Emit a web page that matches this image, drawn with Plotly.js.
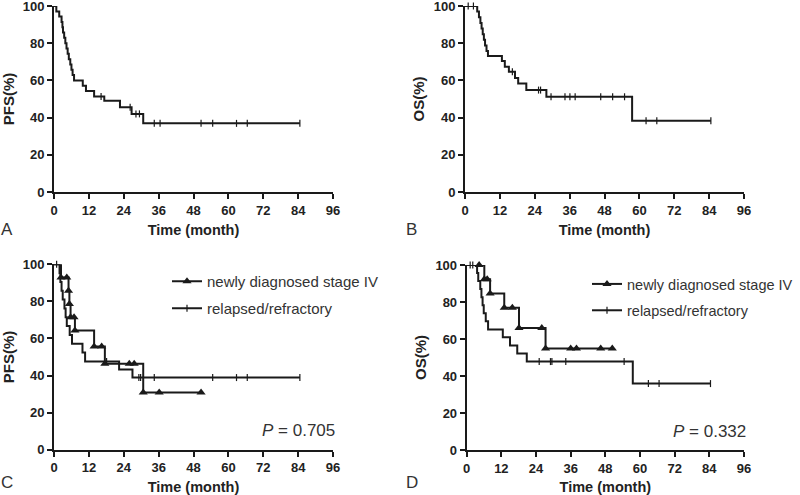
<!DOCTYPE html>
<html>
<head>
<meta charset="utf-8">
<script src="https://cdn.plot.ly/plotly-3.0.1.min.js"></script>
<style>html,body{margin:0;padding:0;background:#fff;}#chart{width:800px;height:495px;}</style>
</head>
<body>
<div id="chart"></div>
<script>
// ---------- Data ----------
// Panel A: PFS, all patients
const pfsAllTimes = [0.8, 1.8, 2.6, 2.9, 3.1, 3.5, 3.9, 4.3, 4.7, 5.1, 5.6, 6.0, 6.4, 6.9, 9.9, 11.0, 13.8, 17.3, 22.7, 26.7, 30.7];
const pfsAllSurv  = [97.1, 94.3, 91.4, 88.6, 85.7, 82.9, 80.0, 77.1, 74.3, 71.4, 68.6, 65.7, 62.9, 60.0, 57.1, 54.3, 51.4, 49.0, 45.5, 42.0, 36.9];
const pfsAllCensor = [16.2, 26.2, 28.2, 29.4, 34.5, 36.5, 50.6, 54.6, 62.8, 66.5, 84.6];
const pfsAllEnd = 84.6;

// Panel B: OS, all patients
const osAllTimes = [4.2, 4.8, 5.3, 5.7, 6.1, 6.5, 6.9, 7.4, 7.9, 12.7, 13.7, 15.1, 17.2, 18.3, 21.1, 28.0, 57.5];
const osAllSurv  = [97.0, 93.9, 90.9, 87.9, 84.8, 81.8, 78.8, 75.8, 73.1, 70.4, 67.4, 64.7, 61.3, 58.3, 54.8, 51.2, 38.3];
const osAllCensor = [1.1, 2.9, 16.3, 25.3, 26.0, 29.6, 34.4, 36.1, 37.9, 46.7, 50.8, 54.9, 62.3, 66.0, 84.6];
const osAllEnd = 84.6;

// Panel C: PFS by group
const pfsNewTimes = [2.4, 5.0, 5.3, 5.7, 7.2, 13.8, 17.5, 30.7];
const pfsNewSurv  = [92.9, 85.7, 78.6, 71.4, 64.3, 55.6, 46.3, 30.9];
const pfsNewMarks = [2.4, 4.4, 5.0, 5.3, 5.7, 6.9, 7.2, 13.8, 16.4, 17.5, 25.9, 27.6, 30.7, 36.2, 50.6];
const pfsNewEnd = 50.6;
const pfsRelTimes = [1.9, 2.2, 2.6, 3.0, 3.6, 4.0, 4.4, 5.4, 6.2, 9.8, 10.7, 22.4, 27.0];
const pfsRelSurv  = [95.2, 90.5, 85.7, 81.0, 76.2, 71.4, 66.7, 61.9, 57.1, 52.4, 47.6, 43.3, 38.9];
const pfsRelCensor = [0.9, 18.1, 29.2, 29.8, 34.5, 54.6, 62.8, 66.5, 84.6];
const pfsRelEnd = 84.6;

// Panel D: OS by group
const osNewTimes = [6.1, 8.1, 13.0, 18.1, 27.3];
const osNewSurv  = [92.3, 84.6, 76.9, 65.9, 54.9];
const osNewMarks = [4.3, 6.1, 7.1, 8.1, 13.0, 15.8, 18.1, 26.0, 27.3, 36.0, 38.0, 46.4, 50.4];
const osNewEnd = 50.4;
const osRelTimes = [3.6, 4.0, 4.7, 5.1, 5.5, 5.9, 6.6, 7.4, 12.5, 15.0, 17.5, 20.8, 57.5];
const osRelSurv  = [95.7, 91.3, 87.0, 82.6, 78.3, 73.9, 69.6, 65.2, 60.9, 56.5, 52.2, 47.8, 35.9];
const osRelCensor = [1.2, 2.1, 25.1, 29.0, 29.5, 34.3, 54.5, 62.9, 66.6, 84.4];
const osRelEnd = 84.4;

const groupNames = ['newly diagnosed stage IV', 'relapsed/refractory'];
const panelLetters = ['A', 'B', 'C', 'D'];
const yTitles = ['PFS(%)', 'OS(%)', 'PFS(%)', 'OS(%)'];
const xTitle = 'Time (month)';
const pValues = ['0.705', '0.332'];

// ---------- Helpers ----------
const FONT = 'Liberation Sans, Arial, Helvetica, sans-serif';
const INK = '#1a1a1a';
const LW = 2;

function stepXY(times, surv, end) {
  return {x: [0].concat(times, [end]), y: [100].concat(surv, [surv[surv.length - 1]])};
}
function survAt(times, surv, t) {
  let v = 100;
  for (let i = 0; i < times.length; i++) if (times[i] <= t + 1e-9) v = surv[i];
  return v;
}
function markerStyle(kind) {
  return kind === 'tri'
    ? {symbol: 'triangle-up', size: 8, color: INK, line: {width: 0}}
    : {symbol: 'line-ns-open', size: 5, color: INK, line: {width: 1.2, color: INK}};
}
function lineTrace(ax, times, surv, end) {
  const s = stepXY(times, surv, end);
  return {type: 'scatter', mode: 'lines', x: s.x, y: s.y, xaxis: 'x' + ax, yaxis: 'y' + ax,
    line: {shape: 'hv', color: INK, width: LW}, showlegend: false, cliponaxis: false, hoverinfo: 'skip'};
}
function markTrace(ax, times, surv, marks, kind) {
  return {type: 'scatter', mode: 'markers', x: marks, y: marks.map(t => survAt(times, surv, t)),
    xaxis: 'x' + ax, yaxis: 'y' + ax, marker: markerStyle(kind), showlegend: false, cliponaxis: false, hoverinfo: 'skip'};
}
function legendTrace(ax, name, kind, legendId, grp) {
  return {type: 'scatter', mode: 'lines+markers', x: [null], y: [null], xaxis: 'x' + ax, yaxis: 'y' + ax,
    name: name, line: {color: INK, width: LW}, marker: markerStyle(kind), legend: legendId, legendgroup: grp, hoverinfo: 'skip'};
}

const traces = [
  lineTrace(1, pfsAllTimes, pfsAllSurv, pfsAllEnd),
  markTrace(1, pfsAllTimes, pfsAllSurv, pfsAllCensor, 'tick'),
  lineTrace(2, osAllTimes, osAllSurv, osAllEnd),
  markTrace(2, osAllTimes, osAllSurv, osAllCensor, 'tick'),
  lineTrace(3, pfsRelTimes, pfsRelSurv, pfsRelEnd),
  markTrace(3, pfsRelTimes, pfsRelSurv, pfsRelCensor, 'tick'),
  lineTrace(3, pfsNewTimes, pfsNewSurv, pfsNewEnd),
  markTrace(3, pfsNewTimes, pfsNewSurv, pfsNewMarks, 'tri'),
  lineTrace(4, osRelTimes, osRelSurv, osRelEnd),
  markTrace(4, osRelTimes, osRelSurv, osRelCensor, 'tick'),
  lineTrace(4, osNewTimes, osNewSurv, osNewEnd),
  markTrace(4, osNewTimes, osNewSurv, osNewMarks, 'tri'),
  legendTrace(3, groupNames[0], 'tri', 'legend', 'c1'),
  legendTrace(3, groupNames[1], 'tick', 'legend', 'c2'),
  legendTrace(4, groupNames[0], 'tri', 'legend2', 'd1'),
  legendTrace(4, groupNames[1], 'tick', 'legend2', 'd2')
];

// ---------- Layout ----------
const W = 800, H = 495;
const px = v => v / W, py = v => 1 - v / H;
// pixel boxes [left, right, top, bottom]
const boxes = [[54, 333, 6, 192], [465, 744, 6, 192], [54, 333, 264.3, 449.7], [466.7, 744, 265, 450]];

const legendCommon = {xanchor: 'left', yanchor: 'top', bgcolor: 'rgba(0,0,0,0)',
  traceorder: 'grouped', tracegroupgap: 4.5};
const layout = {
  width: W, height: H, margin: {l: 0, r: 0, t: 0, b: 0, autoexpand: false},
  paper_bgcolor: '#fff', plot_bgcolor: '#fff',
  font: {family: FONT, color: '#222'},
  annotations: [],
  legend: Object.assign({x: px(167), y: py(265), font: {family: FONT, size: 15, color: '#333'}}, legendCommon),
  legend2: Object.assign({x: px(587), y: py(268), font: {family: FONT, size: 14.5, color: '#333'}}, legendCommon)
};

boxes.forEach((b, i) => {
  const n = i + 1;
  const sfx = n === 1 ? '' : String(n);
  layout['xaxis' + sfx] = {
    domain: [px(b[0]), px(b[1])], range: [0, 96], tick0: 0, dtick: 12, anchor: 'y' + sfx,
    showline: true, linecolor: INK, linewidth: LW, ticks: 'outside', ticklen: 5, tickwidth: LW, tickcolor: INK,
    showgrid: false, zeroline: false, fixedrange: true, ticklabeloverflow: 'allow',
    tickfont: {family: FONT, size: 13, color: '#222', weight: 'bold'},
    title: {text: xTitle, standoff: 8, font: {family: FONT, size: 14.5, color: '#222', weight: 'bold'}}
  };
  layout['yaxis' + sfx] = {
    domain: [py(b[3]), py(b[2])], range: [0, 100], tick0: 0, dtick: 20, anchor: 'x' + sfx,
    showline: true, linecolor: INK, linewidth: LW, ticks: 'outside', ticklen: 5, tickwidth: LW, tickcolor: INK,
    showgrid: false, zeroline: false, fixedrange: true, ticklabeloverflow: 'allow',
    tickfont: {family: FONT, size: 13, color: '#222', weight: 'bold'},
    title: {text: yTitles[i], font: {family: FONT, size: 15, color: '#222', weight: 'bold'}}
  };
});

const letterPos = [[6.7, 229], [411.7, 229], [6.7, 482.3], [411.7, 482.3]];
panelLetters.forEach((L, i) => {
  layout.annotations.push({text: L, xref: 'paper', yref: 'paper', x: px(letterPos[i][0]), y: py(letterPos[i][1]),
    xanchor: 'center', yanchor: 'middle', showarrow: false, font: {family: FONT, size: 17, color: '#333'}});
});
const pPos = [[336.7, 430], [748.3, 431]];
pValues.forEach((p, i) => {
  layout.annotations.push({text: '<i>P</i> = ' + p, xref: 'paper', yref: 'paper', x: px(pPos[i][0]), y: py(pPos[i][1]),
    xanchor: 'right', yanchor: 'middle', showarrow: false, font: {family: FONT, size: 17, color: '#333'}});
});

Plotly.newPlot('chart', traces, layout, {displayModeBar: false, staticPlot: true});
</script>
</body>
</html>
